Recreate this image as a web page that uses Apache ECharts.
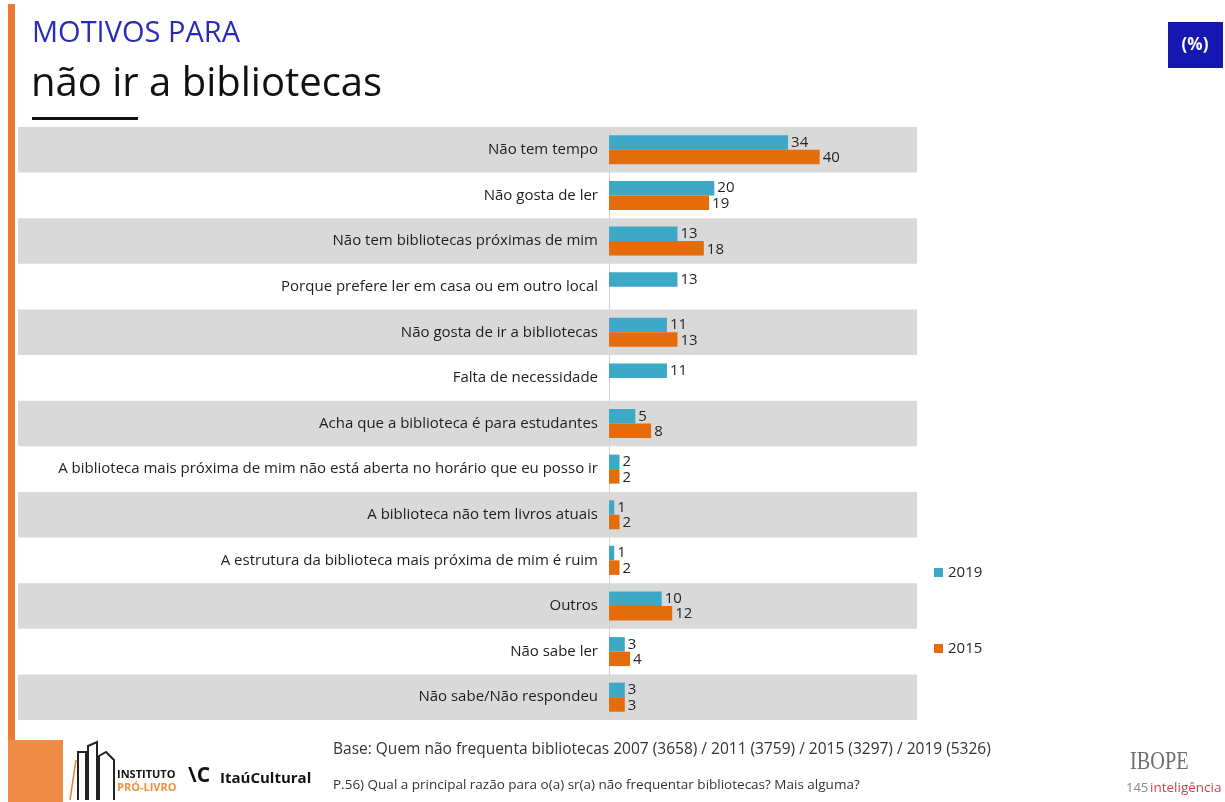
<!DOCTYPE html>
<html>
<head>
<meta charset="utf-8">
<script src="https://cdn.jsdelivr.net/npm/echarts@6/dist/echarts.min.js"></script>
<style>
  html, body { margin: 0; padding: 0; background: #fff; }
  #chart { width: 1225px; height: 802px; }
</style>
</head>
<body>
<div id="chart"></div>
<script>
const categories = [
  "Não tem tempo",
  "Não gosta de ler",
  "Não tem bibliotecas próximas de mim",
  "Porque prefere ler em casa ou em outro local",
  "Não gosta de ir a bibliotecas",
  "Falta de necessidade",
  "Acha que a biblioteca é para estudantes",
  "A biblioteca mais próxima de mim não está aberta no horário que eu posso ir",
  "A biblioteca não tem livros atuais",
  "A estrutura da biblioteca mais próxima de mim é ruim",
  "Outros",
  "Não sabe ler",
  "Não sabe/Não respondeu",
];
const values2019 = [34, 20, 13, 13, 11, 11, 5, 2, 1, 1, 10, 3, 3];
const values2015 = [40, 19, 18, "-", 13, "-", 8, 2, 2, 2, 12, 4, 3];
const seriesNames = ["2019", "2015"];

const FONT = "Open Sans";
const BLUE = "#3DA9C6";
const ORANGE = "#E46C0A";

let chart = echarts.init(document.getElementById("chart"));

let valueLabel = (dy) => ({
  show: true,
  position: "right",
  distance: 3,
  offset: [0, dy],
  color: "#262626",
  fontFamily: FONT,
  fontSize: 15,
});

let option = {
  animation: false,
  textStyle: { fontFamily: FONT },
  grid: [
    { left: 609, width: 316, top: 127, height: 593 },
    // wide grid only used for the grey row bands
    { left: 18, width: 899, top: 127, height: 593 },
  ],
  xAxis: [
    {
      gridIndex: 0,
      type: "value",
      min: 0,
      max: 60,
      show: false,
    },
    {
      gridIndex: 1,
      type: "value",
      min: 0,
      max: 1,
      show: false,
    },
  ],
  yAxis: [
    {
      gridIndex: 0,
      type: "category",
      data: categories,
      inverse: true,
      axisTick: { show: false },
      axisLine: { show: true, lineStyle: { color: "#D4D4D4", width: 1 } },
      axisLabel: {
        margin: 11,
        color: "#1E1E1E",
        fontFamily: FONT,
        fontSize: 15,
      },
      z: 3,
    },
    {
      gridIndex: 1,
      type: "category",
      data: categories,
      inverse: true,
      axisTick: { show: false },
      axisLine: { show: false },
      axisLabel: { show: false },
      splitLine: { show: false },
      splitArea: {
        show: true,
        areaStyle: { color: ["#D9D9D9", "rgba(255,255,255,0)"] },
      },
    },
  ],
  legend: {
    orient: "vertical",
    left: 929,
    top: 560,
    itemGap: 61,
    itemWidth: 9,
    itemHeight: 9,
    itemStyle: { borderWidth: 0 },
    icon: "rect",
    data: seriesNames,
    textStyle: { color: "#262626", fontFamily: FONT, fontSize: 15 },
  },
  series: [
    {
      name: seriesNames[0],
      type: "bar",
      xAxisIndex: 0,
      yAxisIndex: 0,
      data: values2019,
      barWidth: 14.5,
      barGap: "0%",
      itemStyle: { color: BLUE },
      label: valueLabel(0),
      z: 4,
    },
    {
      name: seriesNames[1],
      type: "bar",
      xAxisIndex: 0,
      yAxisIndex: 0,
      data: values2015,
      barWidth: 14.5,
      barGap: "0%",
      itemStyle: { color: ORANGE },
      label: valueLabel(1),
      z: 4,
    },
    {
      type: "bar",
      xAxisIndex: 1,
      yAxisIndex: 1,
      data: categories.map(() => "-"),
      silent: true,
    },
  ],
  graphic: [
    // left orange stripe + bottom block
    { type: "rect", shape: { x: 8, y: 4, width: 7, height: 798 }, style: { fill: "#E97A2E" } },
    { type: "rect", shape: { x: 8, y: 740, width: 55, height: 62 }, style: { fill: "#F08C45" } },
    // title
    {
      type: "text", left: 32, top: 19,
      style: { text: "MOTIVOS PARA", fill: "#2A2AB8", font: "29px 'Open Sans'" },
    },
    {
      type: "text", left: 31, top: 65,
      style: { text: "não ir a bibliotecas", fill: "#111", font: "40px 'Open Sans'" },
    },
    { type: "rect", shape: { x: 32, y: 117, width: 106, height: 3 }, style: { fill: "#111" } },
    // (%) badge
    { type: "rect", shape: { x: 1168, y: 22, width: 55, height: 46 }, style: { fill: "#1616B0" } },
    {
      type: "text", x: 1195, y: 45,
      style: { text: "(%)", fill: "#fff", font: "bold 17px 'Open Sans'", align: "center", verticalAlign: "middle" },
    },
    // footer text
    {
      type: "text", left: 333, top: 742,
      style: { text: "Base: Quem não frequenta bibliotecas 2007 (3658) / 2011 (3759) / 2015 (3297) / 2019 (5326)", fill: "#333", font: "15.5px 'Open Sans'" },
    },
    {
      type: "text", left: 333, top: 778,
      style: { text: "P.56) Qual a principal razão para o(a) sr(a) não frequentar bibliotecas? Mais alguma?", fill: "#333", font: "13.5px 'Open Sans'" },
    },
    // Instituto Pró-Livro logo (simplified)
    { type: "polyline", shape: { points: [[78, 800], [78, 752], [86, 752], [86, 800]] }, style: { stroke: "#222", fill: null, lineWidth: 2 } },
    { type: "polyline", shape: { points: [[88, 800], [88, 746], [97, 742], [97, 800]] }, style: { stroke: "#222", fill: null, lineWidth: 2 } },
    { type: "polyline", shape: { points: [[99, 800], [99, 756], [106, 752], [114, 760], [114, 800]] }, style: { stroke: "#222", fill: null, lineWidth: 2 } },
    { type: "line", shape: { x1: 70, y1: 800, x2: 76, y2: 760 }, style: { stroke: "#E97A2E", lineWidth: 1.5 } },
    {
      type: "text", left: 117, top: 769,
      style: { text: "INSTITUTO", fill: "#111", font: "bold 11px 'Open Sans'" },
    },
    {
      type: "text", left: 117, top: 782,
      style: { text: "PRÓ-LIVRO", fill: "#F0903E", font: "bold 11px 'Open Sans'" },
    },
    {
      type: "text", left: 188, top: 766,
      style: { text: "\\C", fill: "#111", font: "bold 21px 'Open Sans'" },
    },
    {
      type: "text", left: 220, top: 771,
      style: { text: "ItaúCultural", fill: "#111", font: "bold 15px 'Open Sans'" },
    },
    // IBOPE logo
    {
      type: "text", left: 1130, top: 749, scaleX: 0.78,
      style: { text: "IBOPE", fill: "#6E6E6E", font: "26px 'Liberation Serif'" },
    },
    {
      type: "text", left: 1126, top: 782,
      style: { text: "145", fill: "#8A8A8A", font: "13px 'Open Sans'" },
    },
    {
      type: "text", left: 1150, top: 781,
      style: { text: "inteligência", fill: "#D0434D", font: "13.5px 'Open Sans'" },
    },
  ],
};

chart.setOption(option);
</script>
</body>
</html>
